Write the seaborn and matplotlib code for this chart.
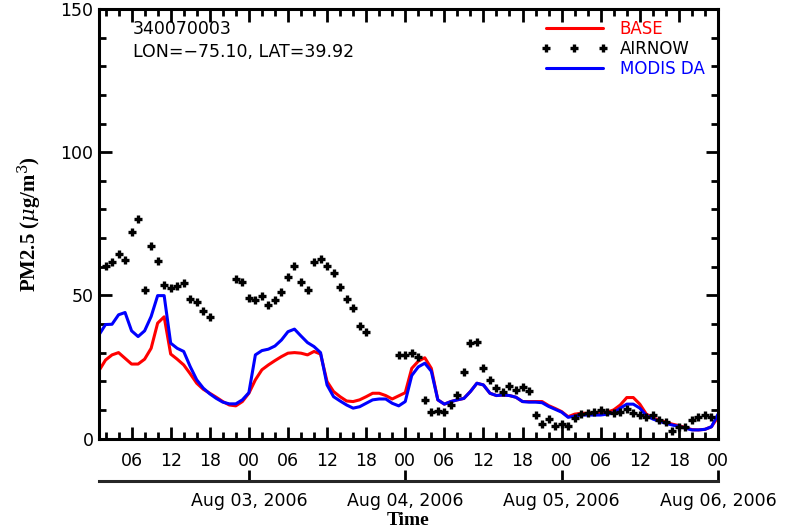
import numpy as np
import pandas as pd
import matplotlib
matplotlib.use('Agg')
import matplotlib.pyplot as plt
import seaborn as sns
from matplotlib.lines import Line2D
from matplotlib.ticker import MultipleLocator, FuncFormatter, NullLocator

nan = np.nan

# hourly values, Aug 02 01:00 .. Aug 06 00:00 (UTC)
start = pd.Timestamp('2006-08-02 00:00')
times = pd.date_range('2006-08-02 01:00', '2006-08-06 00:00', freq='h')

base = [23.7, 27.4, 29.2, 30.0, 28.0, 26.0, 26.0, 27.7, 31.5, 40.3,
        42.5, 29.5, 27.7, 25.7, 22.6, 19.3, 17.2, 15.8, 14.4, 12.9,
        11.7, 11.4, 12.9, 15.8, 20.5, 24.0, 25.7, 27.2, 28.6, 29.8,
        30.0, 29.8, 29.2, 30.4, 29.5, 19.9, 16.4, 14.6, 13.1, 12.9,
        13.5, 14.6, 15.8, 15.8, 15.0, 13.8, 14.9, 16.0, 24.5, 27.0,
        28.2, 24.5, 13.5, 12.0, 12.9, 13.5, 14.0, 16.4, 19.3, 18.7,
        15.8, 15.0, 15.2, 15.0, 14.4, 12.9, 12.9, 12.9, 12.9, 11.5,
        10.5, 9.4, 7.6, 8.5, 8.8, 8.8, 9.0, 9.0, 9.2, 10.0,
        11.7, 14.3, 14.3, 12.0, 8.5, 7.2, 6.4, 5.7, 5.0, 4.5,
        3.8, 3.1, 3.0, 3.2, 4.1, 7.5]

modis_da = [36.2, 39.8, 39.9, 43.2, 44.0, 37.6, 35.6, 37.6, 42.6, 49.9,
            49.9, 33.3, 31.5, 30.4, 25.1, 20.5, 17.6, 15.6, 14.0, 12.7,
            12.1, 12.1, 13.5, 16.0, 29.2, 30.7, 31.2, 32.3, 34.4, 37.3,
            38.2, 35.8, 33.5, 32.1, 30.0, 18.7, 14.6, 13.1, 11.7, 10.6,
            11.1, 12.3, 13.5, 13.8, 13.8, 12.3, 11.4, 12.9, 22.0, 25.0,
            26.3, 23.5, 13.5, 12.0, 12.9, 13.5, 14.0, 16.4, 19.3, 18.7,
            15.8, 15.0, 15.2, 15.0, 14.4, 12.9, 12.7, 12.7, 12.5, 11.2,
            10.2, 9.2, 7.4, 7.8, 8.2, 8.2, 8.2, 8.2, 8.5, 9.0,
            10.6, 12.0, 12.0, 10.6, 8.0, 6.8, 6.0, 5.3, 4.7, 4.2,
            3.6, 3.0, 3.0, 3.2, 4.1, 8.5]

airnow = [nan, 60.4, 61.8, 64.4, 62.4, 72.1, 76.7, 51.7, 67.1, 62.1,
          53.7, 52.5, 53.3, 54.3, 48.8, 47.6, 44.6, 42.6, nan, nan,
          nan, 55.8, 54.6, 49.2, 48.4, 49.8, 46.7, 48.2, 51.0, 56.4,
          60.1, 54.6, 51.7, 61.6, 62.7, 60.4, 57.8, 52.9, 48.8, 45.7,
          39.3, 37.3, nan, nan, nan, nan, 29.2, 29.2, 29.8, 28.4,
          13.3, 9.3, 9.5, 9.3, 11.8, 15.2, 23.2, 33.5, 33.6, 24.5,
          20.6, 17.5, 16.4, 18.5, 17.0, 18.0, 16.5, 8.3, 5.1, 6.8,
          4.4, 5.1, 4.4, 7.1, 8.5, 8.8, 9.4, 10.0, 9.4, 8.8,
          9.1, 10.2, 8.8, 8.2, 7.6, 8.2, 6.5, 5.9, 2.6, 4.1,
          4.1, 6.5, 7.6, 8.2, 7.6, nan]

df = pd.DataFrame({'time': times, 'BASE': base, 'MODIS DA': modis_da, 'AIRNOW': airnow})
df['hour'] = (df['time'] - start) / pd.Timedelta(hours=1)

sns.set_style('ticks')
plt.rcParams['font.family'] = ['DejaVu Sans']
plt.rcParams['mathtext.fontset'] = 'dejavuserif'
plt.rcParams['text.color'] = 'black'
plt.rcParams['axes.labelcolor'] = 'black'
fs = 12.5

fig = plt.figure(figsize=(7.94, 5.29), dpi=100)
ax = fig.add_axes([99 / 794, 1 - 438.5 / 529, 619 / 794, 429.5 / 529])

sns.lineplot(data=df, x='hour', y='BASE', color='red', lw=2.2, ax=ax)
sns.lineplot(data=df, x='hour', y='MODIS DA', color='blue', lw=2.2, ax=ax)
sns.scatterplot(data=df, x='hour', y='AIRNOW', marker='+', color='black', s=34, linewidth=2.4, ax=ax, zorder=5)

ax.set_xlim(1, 96)
ax.set_ylim(0, 150)
ax.xaxis.set_major_locator(MultipleLocator(6))
ax.xaxis.set_minor_locator(MultipleLocator(2))
ax.xaxis.set_major_formatter(FuncFormatter(lambda v, p: f'{int(round(v)) % 24:02d}'))
ax.yaxis.set_major_locator(MultipleLocator(50))
ax.yaxis.set_minor_locator(MultipleLocator(10))
ax.tick_params(which='both', direction='in', top=True, right=True, width=2, colors='black')
ax.tick_params(which='major', length=9, labelsize=fs)
ax.tick_params(which='minor', length=5)
ax.tick_params(axis='x', pad=9.5)
ax.tick_params(axis='y', pad=4)
for sp in ax.spines.values():
    sp.set_linewidth(2.2)
    sp.set_color('black')

ax.set_xlabel('')
ax.set_ylabel('PM2.5 ($\\mu$g/m$^3$)', fontsize=15, fontweight='bold', family='Liberation Serif')
ax.yaxis.set_label_coords(-(99 - 44) / 619, 0.5)

ax.text(0.055, 0.953, '340070003', transform=ax.transAxes, fontsize=fs, va='center')
ax.text(0.055, 0.899, 'LON=\u221275.10, LAT=39.92', transform=ax.transAxes, fontsize=fs, va='center')

handles = [Line2D([], [], color='red', lw=2.2),
           Line2D([], [], color='black', marker='+', ls='none', ms=5.8, mew=2.4),
           Line2D([], [], color='blue', lw=2.2)]
leg = ax.legend(handles, ['BASE', 'AIRNOW', 'MODIS DA'], loc='upper left',
                bbox_to_anchor=(0.714, 0.974), frameon=False, numpoints=3,
                handlelength=4.0, handletextpad=0.72, labelspacing=0.12,
                borderpad=0, borderaxespad=0, fontsize=12)
for t, c in zip(leg.get_texts(), ['red', 'black', 'blue']):
    t.set_color(c)

# date axis below the hour axis
sec = ax.secondary_xaxis(-(481 - 438.5) / 429.5)
sec.set_xticks([24, 48, 72, 96])
sec.xaxis.set_major_formatter(FuncFormatter(
    lambda v, p: (start + pd.Timedelta(hours=v)).strftime('%b %d, %Y')))
sec.xaxis.set_minor_locator(NullLocator())
sec.tick_params(direction='in', length=8, width=2, pad=8, labelsize=fs, colors='black')
sec.spines['bottom'].set_linewidth(2.2)
sec.set_xlabel('Time', fontsize=14, fontweight='bold', family='Liberation Serif', labelpad=1.5)

fig.savefig('out.png', dpi=100)
